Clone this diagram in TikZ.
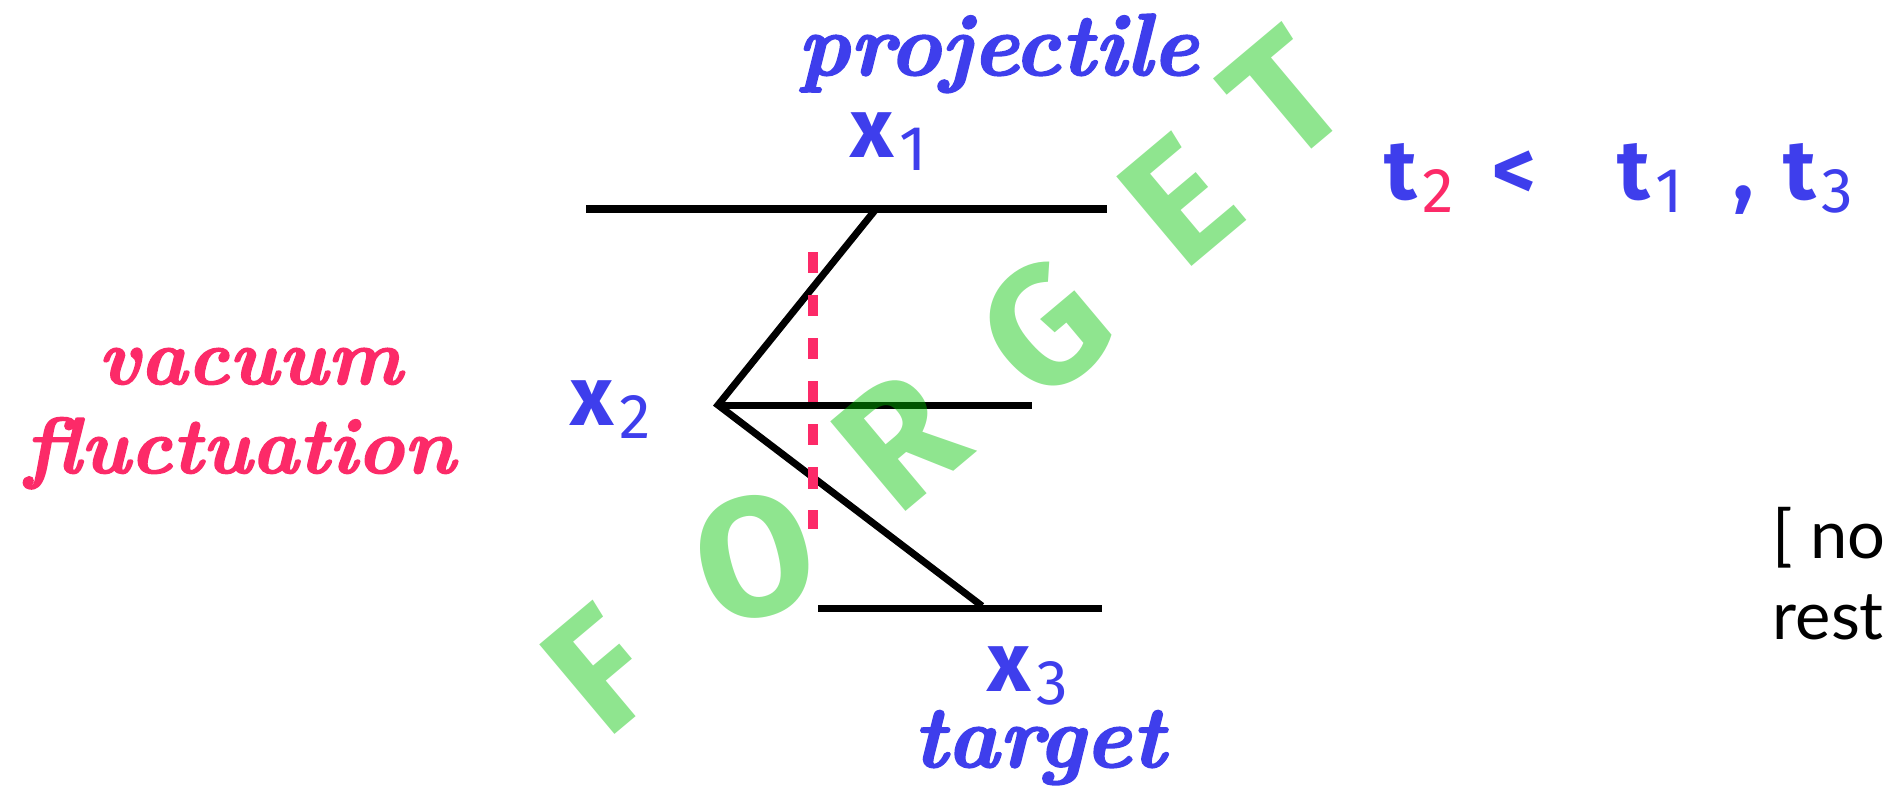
\documentclass[tikz,border=0pt]{standalone}
\usepackage{fontspec}
\newfontfamily\handfont{Fira Sans}
\newfontfamily\notefont{Lato}
\newfontfamily\lblfont{lmroman10-bolditalic.otf}[FakeBold=2]
\definecolor{inkblue}{RGB}{62,62,236}
\definecolor{inkred}{RGB}{252,42,104}
\definecolor{markgreen}{RGB}{0,195,0}
% handwritten symbol with a lowered index
\newcommand{\hsym}[2]{{\fontsize{24}{28}\selectfont\bfseries #1}\kern1.5pt\raisebox{-3.7pt}{\fontsize{18}{20}\selectfont #2}}

\begin{document}
\begin{tikzpicture}[x=0.01cm,y=-0.01cm,
  level/.style={line width=2pt,black},
  worldline/.style={line width=2pt,black,line join=miter},
  timecut/.style={line width=3.1pt,inkred,dash pattern=on 6pt off 6.25pt},
  tag/.style={inner sep=0pt,anchor=base,inkblue,font=\lblfont\fontsize{25}{30}\selectfont},
  vactag/.style={tag,inkred,font=\lblfont\fontsize{22.5}{27}\selectfont},
  hand/.style={inner sep=0pt,anchor=base west,inkblue,font=\handfont},
  forget/.style={inner sep=0pt,markgreen,opacity=.44,rotate=40,font=\handfont\fontsize{48}{48}\selectfont\bfseries},
  note/.style={inner sep=0pt,anchor=base west,black,font=\notefont\fontsize{19}{23}\selectfont}]
  \useasboundingbox (0,0) rectangle (1886,790);
  \clip (0,0) rectangle (1886,790);

  % levels and vertices
  \coordinate (topl) at (586,209);
  \coordinate (topr) at (1107,209);
  \coordinate (midr) at (1032,405);
  \coordinate (botl) at (818,608);
  \coordinate (botr) at (1102,608);
  \coordinate (v1) at (876,209);
  \coordinate (v2) at (718,405);
  \coordinate (v3) at (982,606);
  \coordinate (cuttop) at (813,252);
  \coordinate (cutbot) at (813,529);

  \draw [level] (topl) -- (topr);
  \draw [level] (v2) -- (midr);
  \draw [level] (botl) -- (botr);
  \draw [worldline] (v1) -- (v2) -- (v3);
  \draw [timecut] (cuttop) -- (cutbot);

  % labels
  \node [tag] (proj) at (998,75) {projectile};
  \node [tag] (targ) at (1039,767) {target};
  \node [vactag] (vac) at (250,384) {vacuum};
  \node [vactag] (fluc) at (240,473) {fluctuation};

  \node [hand] (x1) at (850,157) {\hsym{x}{1}};
  \node [hand] (x2) at (570,425) {\hsym{x}{2}};
  \node [hand] (x3) at (987,691) {\hsym{x}{3}};

  \node [hand] (t2) at (1384,199) {\hsym{t}{\textcolor{inkred}{2}}};
  \node [hand,font=\handfont\fontsize{24}{28}\selectfont\bfseries] (less) at (1492,199) {<};
  \node [hand] (t1) at (1617,199) {\hsym{t}{1}};
  \node [hand,font=\handfont\fontsize{24}{28}\selectfont\bfseries] (comma) at (1733,199) {,};
  \node [hand] (t3) at (1783,199) {\hsym{t}{3}};

  \node [note] (note1) at (1772,558) {[ no};
  \node [note] (note2) at (1772,639) {rest};

  % the crossed-out word
  \node [forget] (lf) at (600,670) {F};
  \node [forget,rotate=-25] (lo) at (755,557) {O};
  \node [forget] (lr) at (900,440) {R};
  \node [forget] (lg) at (1045,328) {G};
  \node [forget] (le) at (1180,200) {E};
  \node [forget] (lt) at (1285,95) {T};
\end{tikzpicture}
\end{document}
